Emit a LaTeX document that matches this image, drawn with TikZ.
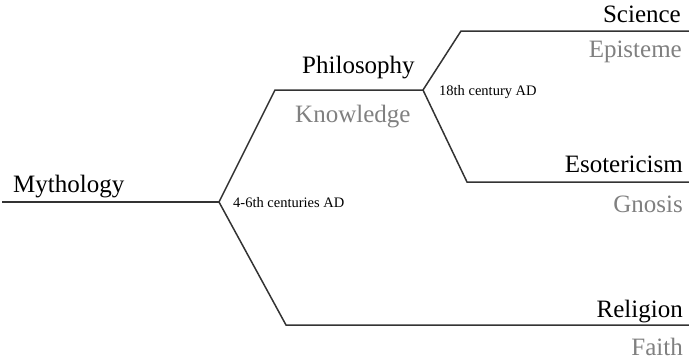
\documentclass[tikz,border=0pt]{standalone}
\usepackage{fontspec}
\setmainfont{Liberation Serif}
\definecolor{linec}{HTML}{333333}
\definecolor{subc}{HTML}{808080}
\begin{document}
\begin{tikzpicture}[x=1pt,y=-1pt,
  branch/.style={draw=linec,line width=1.5pt,line join=miter},
  mainlbl/.style={inner sep=0pt,text=black,font=\fontsize{25}{30}\selectfont},
  sublbl/.style={inner sep=0pt,text=subc,font=\fontsize{25}{30}\selectfont},
  datelbl/.style={inner sep=0pt,text=black,font=\fontsize{14.5}{17}\selectfont}]
\useasboundingbox (0,0) rectangle (689,359);
% branch points
\coordinate (m0) at (2,202);
\coordinate (b1) at (219,202);
\coordinate (p0) at (275,90);
\coordinate (b2) at (423,90);
\coordinate (s0) at (461,31);
\coordinate (s1) at (689,31);
\coordinate (e0) at (467,182);
\coordinate (e1) at (689,182);
\coordinate (r0) at (286,325);
\coordinate (r1) at (689,325);
% connectors
\draw[branch] (m0) -- (b1);
\draw[branch] (b1) -- (p0) -- (b2);
\draw[branch] (b2) -- (s0) -- (s1);
\draw[branch] (b2) -- (e0) -- (e1);
\draw[branch] (b1) -- (r0) -- (r1);
% labels
\node[mainlbl,anchor=base west] (myth) at (13,192) {Mythology};
\node[mainlbl,anchor=base west] (phil) at (302,73) {Philosophy};
\node[sublbl,anchor=base west] (know) at (295,122) {Knowledge};
\node[mainlbl,anchor=base east] (sci) at (681,22) {Science};
\node[sublbl,anchor=base east] (epi) at (682,57) {Episteme};
\node[mainlbl,anchor=base east] (eso) at (683,172) {Esotericism};
\node[sublbl,anchor=base east] (gno) at (683,212) {Gnosis};
\node[mainlbl,anchor=base east] (rel) at (683,317) {Religion};
\node[sublbl,anchor=base east] (fai) at (683,355) {Faith};
\node[datelbl,anchor=base west] (d1) at (233,207) {4-6th centuries AD};
\node[datelbl,anchor=base west] (d2) at (439,95) {18th century AD};
\end{tikzpicture}
\end{document}
